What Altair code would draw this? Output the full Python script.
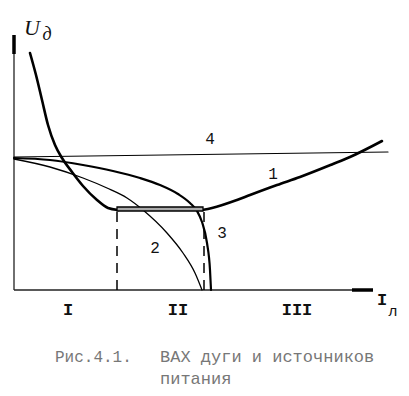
import altair as alt
import pandas as pd

# Arbitrary units of current I and arc voltage U
c1a_I = [16, 22, 28, 34, 41, 48, 58, 69, 83, 94, 104]
c1a_U = [237, 215, 190, 165, 145, 132, 118, 104, 90, 82, 80]
c1b_I = [188, 198, 223, 236, 263, 286, 319, 336, 368]
c1b_U = [80, 82, 90, 95, 105, 113, 126, 133, 149]
c4_I = [0, 374]
c4_U = [133, 138]
c3_I = [0, 36, 69, 99, 126, 146, 164, 176, 183, 188, 193, 196, 197]
c3_U = [132, 130, 125, 119, 112, 105, 96, 87, 79, 68, 47, 20, 0]
c2_I = [0, 36, 69, 93, 113, 129, 153, 169, 181, 188]
c2_U = [131, 123, 112, 102, 92, 80, 57, 37, 17, 0]
rect_I = [103, 189]
rect_U = [79, 83]
dash_I = [103, 190]
dash_top = 79

num_labels = ["4", "1", "2", "3"]
num_I = [196, 259, 141, 208]
num_U = [151, 116, 42, 57]
zone_labels = ["I", "II", "III"]
zone_I = [54, 164, 283]
zone_U = [-20, -20, -20]

xs = alt.Scale(domain=[-6, 387], nice=False, zero=False)
ys = alt.Scale(domain=[-98, 282], nice=False, zero=False)

def X(f="I"):
    return alt.X(f"{f}:Q", scale=xs, axis=None)

def Y(f="U"):
    return alt.Y(f"{f}:Q", scale=ys, axis=None)

def curve(I, U, w):
    df = pd.DataFrame({"I": I, "U": U, "o": range(len(I))})
    return alt.Chart(df).mark_line(color="black", strokeWidth=w, interpolate="monotone",
                                   strokeCap="round").encode(x=X(), y=Y(), order="o:Q")

layers = []
# axes
layers.append(alt.Chart(pd.DataFrame({"I": [0], "U": [0], "U2": [255]})).mark_rule(
    color="#222", strokeWidth=1.3).encode(x=X(), y=Y(), y2="U2"))
layers.append(alt.Chart(pd.DataFrame({"I": [0], "U": [236], "U2": [255]})).mark_rule(
    color="black", strokeWidth=3.5).encode(x=X(), y=Y(), y2="U2"))
layers.append(alt.Chart(pd.DataFrame({"I": [0], "I2": [359], "U": [0]})).mark_rule(
    color="#222", strokeWidth=1.3).encode(x=X(), x2="I2", y=Y()))
layers.append(alt.Chart(pd.DataFrame({"I": [338], "I2": [359], "U": [0]})).mark_rule(
    color="black", strokeWidth=3.5).encode(x=X(), x2="I2", y=Y()))

layers.append(curve(c4_I, c4_U, 1.2))
layers.append(curve(c2_I, c2_U, 1.3))
layers.append(curve(c3_I, c3_U, 2.2))
layers.append(curve(c1a_I, c1a_U, 2.6))
layers.append(curve(c1b_I, c1b_U, 2.6))

layers.append(alt.Chart(pd.DataFrame({"I": [rect_I[0]], "I2": [rect_I[1]],
                                      "U": [rect_U[0]], "U2": [rect_U[1]]})).mark_rect(
    stroke="black", strokeWidth=1.3, fill="#aaaaaa").encode(x=X(), x2="I2", y=Y(), y2="U2"))

layers.append(alt.Chart(pd.DataFrame({"I": dash_I, "U": [0, 0], "U2": [dash_top, dash_top]})).mark_rule(
    color="black", strokeWidth=1.5, strokeDash=[10, 7]).encode(x=X(), y=Y(), y2="U2"))

layers.append(alt.Chart(pd.DataFrame({"t": num_labels, "I": num_I, "U": num_U})).mark_text(
    font="Liberation Mono", fontSize=16, color="#111", baseline="middle").encode(x=X(), y=Y(), text="t:N"))
layers.append(alt.Chart(pd.DataFrame({"t": zone_labels, "I": zone_I, "U": zone_U})).mark_text(
    font="Liberation Mono", fontSize=17, fontWeight="bold", color="#111", baseline="middle").encode(
    x=X(), y=Y(), text="t:N"))

# axis titles
layers.append(alt.Chart(pd.DataFrame({"t": ["I"], "I": [368], "U": [-10]})).mark_text(
    font="Liberation Mono", fontSize=17, fontWeight="bold", color="#111", baseline="middle").encode(
    x=X(), y=Y(), text="t:N"))
layers.append(alt.Chart(pd.DataFrame({"t": ["л"], "I": [379], "U": [-21]})).mark_text(
    font="Liberation Mono", fontSize=15, color="#111", baseline="middle").encode(
    x=X(), y=Y(), text="t:N"))
layers.append(alt.Chart(pd.DataFrame({"t": ["U"], "I": [18], "U": [262]})).mark_text(
    font="Liberation Serif", fontSize=22, fontStyle="italic", color="#111", baseline="middle").encode(
    x=X(), y=Y(), text="t:N"))
layers.append(alt.Chart(pd.DataFrame({"t": ["д"], "I": [33], "U": [255]})).mark_text(
    font="Liberation Serif", fontSize=18, fontStyle="italic", color="#111", baseline="middle").encode(
    x=X(), y=Y(), text="t:N"))

# caption
cap1_t = ["Рис.4.1."]
cap1_I = [41]
cap1_U = [-67]
cap2_t = ["ВАХ дуги и источников", "питания"]
cap2_I = [146, 146]
cap2_U = [-67, -89]
layers.append(alt.Chart(pd.DataFrame({"t": cap1_t, "I": cap1_I, "U": cap1_U})).mark_text(
    font="Liberation Mono", fontSize=16, color="#777", align="left", baseline="middle").encode(
    x=X(), y=Y(), text="t:N"))
layers.append(alt.Chart(pd.DataFrame({"t": cap2_t, "I": cap2_I, "U": cap2_U})).mark_text(
    font="Liberation Mono", fontSize=17, color="#777", align="left", baseline="middle").encode(
    x=X(), y=Y(), text="t:N"))

chart = alt.layer(*layers).properties(
    width=393, height=380, autosize=alt.AutoSizeParams(type="none"), padding=0
).configure_view(stroke=None)

chart.save("out.html", embed_options={"renderer": "svg", "actions": False})
